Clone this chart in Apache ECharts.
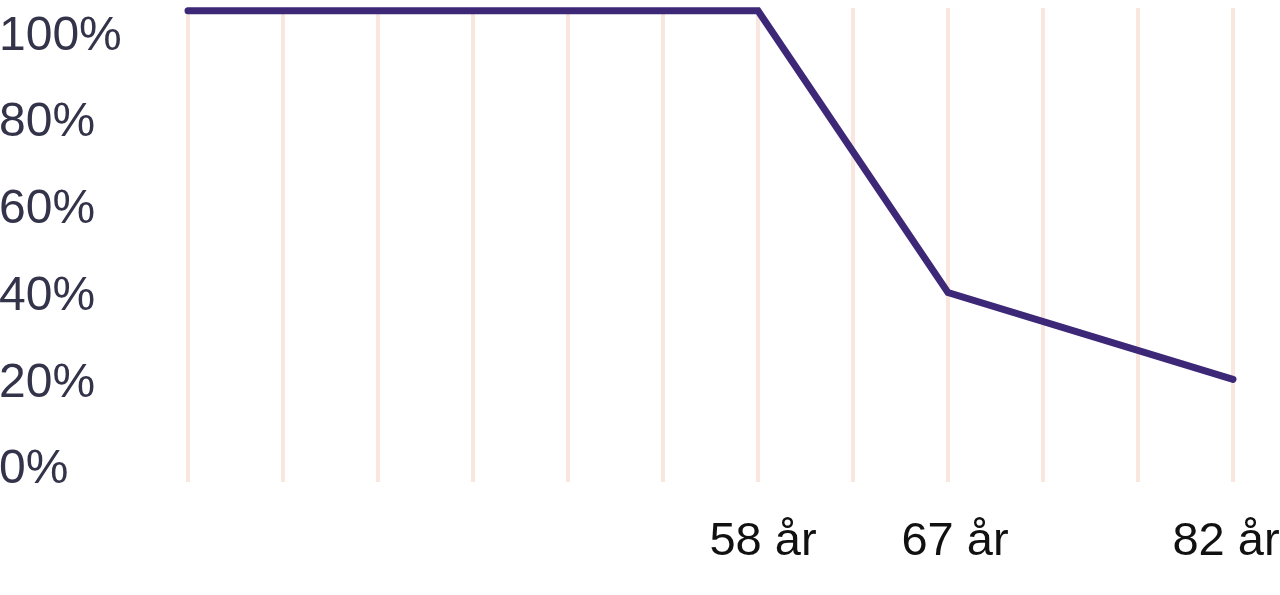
<!DOCTYPE html>
<html>
<head>
<meta charset="utf-8">
<script src="https://cdn.jsdelivr.net/npm/echarts@6/dist/echarts.min.js"></script>
<style>
html,body{margin:0;padding:0;background:#fff;overflow:hidden;}
#chart{width:1280px;height:595px;}
</style>
</head>
<body>
<div id="chart"></div>
<script>
// Categories (one per vertical gridline); only three are labelled
const categories = ['c1','c2','c3','c4','c5','c6','58','c8','67','c10','c11','82'];
const xTickLabels = ['', '', '', '', '', '', '58 år', '', '67 år', '', '', '82 år'];
// Share (%); nulls are bridged by a straight line
const shareValues = [105, 105, 105, 105, 105, 105, 105, null, 40, null, null, 20];
// Y tick labels
const yTicks = [0, 20, 40, 60, 80, 100];

const chart = echarts.init(document.getElementById('chart'), null, {renderer: 'canvas'});
const fontFam = '"Liberation Sans", Arial, sans-serif';
const labelStyle = {fontSize: 47, color: '#111111', fontFamily: fontFam};
chart.setOption({
  animation: false,
  backgroundColor: '#ffffff',
  grid: [
    {left: 188, right: 47, top: 8, bottom: 113, outerBoundsMode: 'none', containLabel: false},
    {left: 188, right: 47, top: 32.5, bottom: 129, outerBoundsMode: 'none', containLabel: false}
  ],
  xAxis: [
    {
      gridIndex: 0, type: 'category', data: categories, boundaryGap: false,
      axisLine: {show: false}, axisTick: {show: false},
      splitLine: {show: true, lineStyle: {color: '#f9e6df', width: 4}},
      axisLabel: {
        interval: 0, margin: 37, fontSize: 47, color: '#111111', fontFamily: fontFam,
        hideOverlap: false,
        formatter: (v, i) => xTickLabels[i] ? '{l' + i + '|' + xTickLabels[i] + '}' : '',
        rich: {
          l6: Object.assign({padding: [0, 0, 0, 10]}, labelStyle),
          l8: Object.assign({padding: [0, 0, 0, 14]}, labelStyle),
          l11: Object.assign({padding: [0, 14, 0, 0]}, labelStyle)
        }
      }
    },
    {gridIndex: 1, type: 'category', data: categories, boundaryGap: false, show: false}
  ],
  yAxis: [
    {gridIndex: 0, type: 'value', min: 0, max: 1, show: false},
    {
      gridIndex: 1, type: 'value', min: yTicks[0], max: yTicks[yTicks.length - 1], interval: 20,
      axisLine: {show: false}, axisTick: {show: false}, splitLine: {show: false},
      axisLabel: {
        margin: 189, align: 'left', fontSize: 48, color: '#33334a', fontFamily: fontFam,
        formatter: (v) => '{y|' + v + '%}',
        rich: {
          y: {fontSize: 48, color: '#33334a', fontFamily: fontFam, padding: [8, 0, 0, 0]}
        }
      }
    }
  ],
  series: [{
    type: 'line', xAxisIndex: 1, yAxisIndex: 1, data: shareValues,
    connectNulls: true, showSymbol: false, symbol: 'none', clip: false,
    lineStyle: {color: '#3d2878', width: 7, cap: 'round', join: 'miter'}
  }]
});
</script>
</body>
</html>
